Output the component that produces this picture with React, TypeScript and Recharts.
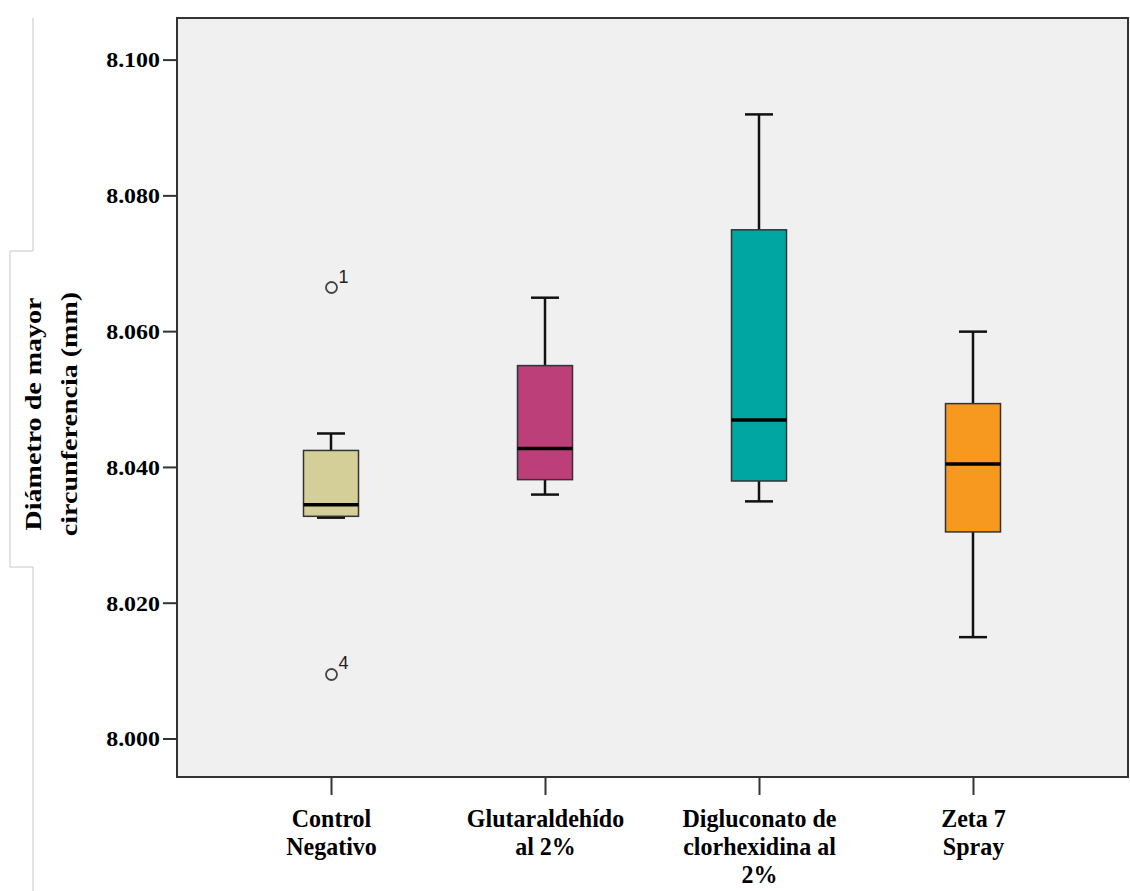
import React from 'react';
import {
  ComposedChart,
  Bar,
  Scatter,
  XAxis,
  YAxis,
  ReferenceArea,
} from 'recharts';

// groups (x positions 1..4) and their label lines
const groupIndex = [1, 2, 3, 4];
const groupLabels = [
  ['Control', 'Negativo'],
  ['Glutaraldehído', 'al 2%'],
  ['Digluconato de', 'clorhexidina al', '2%'],
  ['Zeta 7', 'Spray'],
];

// box plot statistics
const whiskerLow = [8.0326, 8.036, 8.035, 8.015];
const quartile1 = [8.0328, 8.0382, 8.038, 8.0305];
const medians = [8.0345, 8.0428, 8.047, 8.0405];
const quartile3 = [8.0425, 8.055, 8.075, 8.0494];
const whiskerHigh = [8.045, 8.065, 8.092, 8.06];
const boxColors = ['#D4CF99', '#BC3F7A', '#00A6A1', '#F7991E'];

// outliers
const outlierGroup = [1, 1];
const outlierValue = [8.0665, 8.0095];
const outlierCase = ['1', '4'];

const yTicks = [8.0, 8.02, 8.04, 8.06, 8.08, 8.1];
const yDomain = [7.9944, 8.1062];
const xDomain = [0.278, 4.722];

const boxData = groupIndex.map((g, i) => ({
  idx: g,
  lo: whiskerLow[i],
  q1: quartile1[i],
  med: medians[i],
  q3: quartile3[i],
  hi: whiskerHigh[i],
  color: boxColors[i],
}));

const outlierData = outlierGroup.map((g, i) => ({
  idx: g,
  value: outlierValue[i],
  label: outlierCase[i],
}));

const SERIF = '"Liberation Serif", "Times New Roman", serif';

// draws whiskers, box and median inside the range bar [lo, hi]
const BoxShape = (props: any) => {
  const { x, y, width, height, payload } = props;
  if (payload == null) return null;
  const span = payload.hi - payload.lo;
  const k = span > 0 ? height / span : 0;
  const py = (v: number) => y + (payload.hi - v) * k;
  const cx = x + width / 2;
  const cap = 14;
  return (
    <g>
      <line x1={cx} x2={cx} y1={py(payload.hi)} y2={py(payload.q3)} stroke="#111" strokeWidth={2.5} />
      <line x1={cx} x2={cx} y1={py(payload.q1)} y2={py(payload.lo)} stroke="#111" strokeWidth={2.5} />
      <line x1={cx - cap} x2={cx + cap} y1={py(payload.hi)} y2={py(payload.hi)} stroke="#111" strokeWidth={2.5} />
      <line x1={cx - cap} x2={cx + cap} y1={py(payload.lo)} y2={py(payload.lo)} stroke="#111" strokeWidth={2.5} />
      <rect
        x={x}
        y={py(payload.q3)}
        width={width}
        height={py(payload.q1) - py(payload.q3)}
        fill={payload.color}
        stroke="#333"
        strokeWidth={1.5}
      />
      <line x1={x} x2={x + width} y1={py(payload.med)} y2={py(payload.med)} stroke="#000" strokeWidth={3.5} />
    </g>
  );
};

const OutlierShape = (props: any) => {
  const { cx, cy, payload } = props;
  return (
    <g>
      <circle cx={cx} cy={cy} r={5.5} fill="none" stroke="#444" strokeWidth={1.8} />
      <text x={cx + 7} y={cy - 5} fontSize={18} fontFamily='"Liberation Sans", Arial, sans-serif' fill="#222">
        {payload.label}
      </text>
    </g>
  );
};

const XTick = (props: any) => {
  const { x, y, payload } = props;
  const lines = groupLabels[payload.value - 1] || [];
  return (
    <g>
      {lines.map((l, i) => (
        <text
          key={i}
          transform={`translate(${x},${y + 30 + i * 28}) scale(1,1.08)`}
          x={0}
          y={0}
          textAnchor="middle"
          fontFamily={SERIF}
          fontWeight="bold"
          fontSize={24}
          fill="#000"
        >
          {l}
        </text>
      ))}
    </g>
  );
};

const YTick = (props: any) => {
  const { x, y, payload } = props;
  return (
    <text
      transform={`translate(${x},${y}) scale(1.14,1)`}
      x={0}
      y={0}
      dy="0.35em"
      textAnchor="end"
      fontFamily={SERIF}
      fontWeight="bold"
      fontSize={21}
      fill="#000"
    >
      {Number(payload.value).toFixed(3)}
    </text>
  );
};

const YLabel = () => (
  <g transform="translate(41,414) rotate(-90) scale(1.22,1)">
    <text x={0} y={0} textAnchor="middle" fontFamily={SERIF} fontWeight="bold" fontSize={23} fill="#000">
      Diámetro de mayor
    </text>
    <text x={0} y={36} textAnchor="middle" fontFamily={SERIF} fontWeight="bold" fontSize={23} fill="#000">
      circunferencia (mm)
    </text>
  </g>
);

export default function App() {
  return (
    <div style={{ position: 'absolute', left: 0, top: 0, width: 1130, height: 891, background: '#fff' }}>
      <svg width={1130} height={891} style={{ position: 'absolute', left: 0, top: 0 }}>
        <path d="M33 18 V251 H10 V567 H33 V891" fill="none" stroke="#c8c8c8" strokeWidth={1} />
      </svg>
      <div style={{ position: 'absolute', left: 0, top: 0 }}>
        <ComposedChart
          width={1130}
          height={891}
          data={boxData}
          margin={{ top: 18, right: 2, bottom: 0, left: 0 }}
        >
          <ReferenceArea
            x1={xDomain[0]}
            x2={xDomain[1]}
            y1={yDomain[0]}
            y2={yDomain[1]}
            fill="#F0F0F0"
            fillOpacity={1}
            stroke="#333"
            strokeWidth={2}
            ifOverflow="visible"
          />
          <XAxis
            dataKey="idx"
            type="number"
            domain={xDomain}
            ticks={groupIndex}
            allowDataOverflow
            height={114}
            axisLine={false}
            tickSize={18}
            tickLine={{ stroke: '#333', strokeWidth: 2 }}
            tick={<XTick />}
            interval={0}
          />
          <YAxis
            type="number"
            domain={yDomain}
            ticks={yTicks}
            allowDataOverflow
            width={177}
            axisLine={false}
            tickSize={14}
            tickMargin={3}
            tickLine={{ stroke: '#333', strokeWidth: 2 }}
            tick={<YTick />}
            label={<YLabel />}
          />
          <Bar
            dataKey={(d: any) => [d.lo, d.hi]}
            barSize={55}
            shape={<BoxShape />}
            isAnimationActive={false}
          />
          <Scatter
            data={outlierData}
            dataKey="value"
            shape={<OutlierShape />}
            isAnimationActive={false}
          />
        </ComposedChart>
      </div>
    </div>
  );
}
